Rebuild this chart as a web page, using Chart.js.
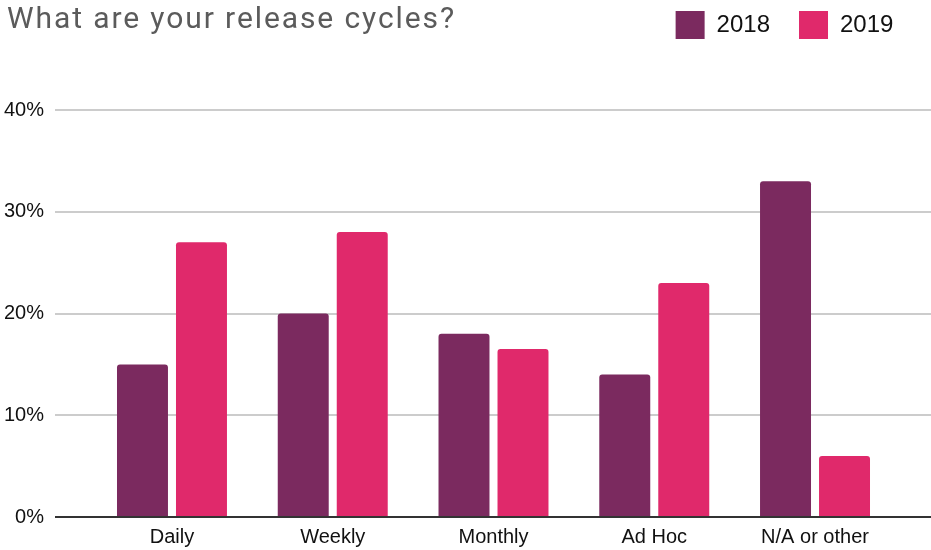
<!DOCTYPE html>
<html>
<head>
<meta charset="utf-8">
<script src="https://cdn.jsdelivr.net/npm/chart.js@4/dist/chart.umd.min.js"></script>
<style>
  html, body { margin: 0; padding: 0; background: #fff; }
  #wrap { position: relative; width: 931px; height: 550px; }
  #title {
    position: absolute; left: 7px; top: 3px; margin: 0;
    font: 400 30px Roboto, sans-serif; letter-spacing: 1.9px;
    color: #5b5b5b; line-height: 30px; white-space: nowrap;
  }
</style>
</head>
<body>
<div id="wrap">
  <canvas id="chartCycles" width="931" height="550"></canvas>
  <h1 id="title">What are your release cycles?</h1>
</div>
<script>
// data
const categories = ['Daily', 'Weekly', 'Monthly', 'Ad Hoc', 'N/A or other'];
const seriesLabels = ['2018', '2019'];
const values2018 = [15, 20, 18, 14, 33];
const values2019 = [27, 28, 16.5, 23, 6];
const yTicks = [0, 10, 20, 30, 40];

const colors = ['#7b2a5f', '#e0296b'];

const LEGEND_HEIGHT = 110; // chart area starts at the 40% line
const LEGEND_SHIFT_X = 27;
const LEGEND_SHIFT_Y = -18;

// gridlines run wider than the bar area, so draw them across the whole width
const wideGrid = {
  id: 'wideGrid',
  beforeInit(chart) {
    const fitOrig = chart.legend.fit;
    chart.legend.fit = function () {
      fitOrig.call(this);
      this.height = LEGEND_HEIGHT;
    };
  },
  afterLayout(chart) {
    // drop the trailing padding so the legend ends flush with the bars
    const lg = chart.legend;
    lg.left += LEGEND_SHIFT_X;
    lg.right += LEGEND_SHIFT_X;
    lg.top += LEGEND_SHIFT_Y;
    lg.bottom += LEGEND_SHIFT_Y;
  },
  beforeDatasetsDraw(chart) {
    const { ctx, scales: { y } } = chart;
    ctx.save();
    ctx.strokeStyle = '#cccccc';
    ctx.lineWidth = 2;
    yTicks.forEach(t => {
      if (t === 0) return;
      const py = Math.round(y.getPixelForValue(t));
      ctx.beginPath();
      ctx.moveTo(55, py);
      ctx.lineTo(chart.width, py);
      ctx.stroke();
    });
    ctx.restore();
  },
  afterDatasetsDraw(chart) {
    // baseline on top of the bars
    const { ctx, scales: { y } } = chart;
    const py = Math.round(y.getPixelForValue(0));
    ctx.save();
    ctx.strokeStyle = '#333';
    ctx.lineWidth = 2;
    ctx.beginPath();
    ctx.moveTo(55, py);
    ctx.lineTo(chart.width, py);
    ctx.stroke();
    ctx.restore();
  }
};

new Chart(document.getElementById('chartCycles'), {
  type: 'bar',
  data: {
    labels: categories,
    datasets: [
      { label: seriesLabels[0], data: values2018, backgroundColor: colors[0] },
      { label: seriesLabels[1], data: values2019, backgroundColor: colors[1] }
    ]
  },
  options: {
    responsive: false,
    animation: false,
    devicePixelRatio: 1,
    layout: { padding: { left: 0, right: 35.6, top: 0, bottom: 0 } },
    datasets: {
      bar: {
        categoryPercentage: 0.734,
        barPercentage: 0.864,
        borderRadius: { topLeft: 3, topRight: 3 },
        borderSkipped: 'bottom'
      }
    },
    plugins: {
      legend: {
        position: 'top',
        align: 'end',
        labels: {
          boxWidth: 29,
          boxHeight: 28,
          padding: 29,
          color: '#111',
          font: { family: '"Liberation Sans", Arial, sans-serif', size: 24 }
        }
      },
      tooltip: { enabled: false }
    },
    scales: {
      x: {
        afterFit(scale) { scale.height = 33; },
        grid: { display: false, drawTicks: false },
        border: { display: false },
        ticks: {
          color: '#111',
          padding: 8,
          maxRotation: 0,
          font: { family: '"Liberation Sans", Arial, sans-serif', size: 20 }
        }
      },
      y: {
        min: 0,
        max: 40,
        afterFit(scale) {
          scale.width = 91.6;
          // the wide tick padding should not eat into the plot height
          scale.paddingTop = 12;
          scale.paddingBottom = 12;
        },
        afterBuildTicks(scale) { scale.ticks = yTicks.map(v => ({ value: v })); },
        grid: { display: false, drawTicks: false },
        border: { display: false },
        ticks: {
          color: '#111',
          padding: 47.6,
          callback: v => v + '%',
          font: { family: '"Liberation Sans", Arial, sans-serif', size: 20 }
        }
      }
    }
  },
  plugins: [wideGrid]
});
</script>
</body>
</html>
